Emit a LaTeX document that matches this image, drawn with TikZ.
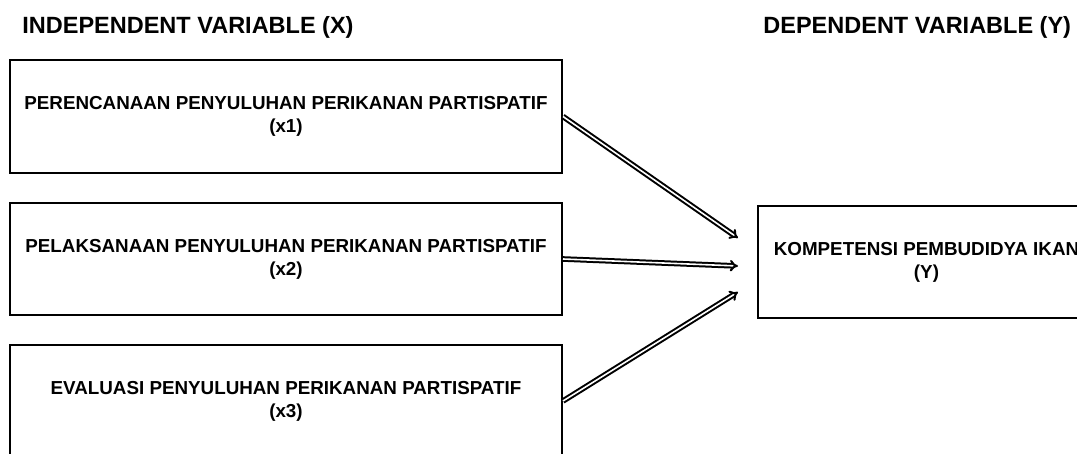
\documentclass[tikz,border=0pt]{standalone}
\usepackage{fontspec}
\setmainfont{Liberation Sans}
\usetikzlibrary{arrows.meta, calc}

\begin{document}
\begin{tikzpicture}[x=0.5pt, y=-0.5pt,
		heading/.style={anchor=base west, inner sep=0pt, font=\fontsize{11.75}{13}\selectfont\bfseries},
		varbox/.style={draw, line width=1pt, align=center, inner sep=0pt, font=\fontsize{9.4}{11.5}\selectfont\bfseries},
		link/.style={double, double distance=0.8pt, line width=1pt, -{Implies[scale=1.2]}}]
		\useasboundingbox (0,0) rectangle (1077,454);
		\node[heading] (headX) at (22,34) {INDEPENDENT VARIABLE (X)};
		\node[heading] (headY) at (763,34) {DEPENDENT VARIABLE (Y)};
		\node[varbox, minimum width=276pt, minimum height=56.5pt] (x1) at (286,116.5) {PERENCANAAN PENYULUHAN PERIKANAN PARTISPATIF\\(x1)};
		\node[varbox, minimum width=276pt, minimum height=56pt] (x2) at (286,259) {PELAKSANAAN PENYULUHAN PERIKANAN PARTISPATIF\\(x2)};
		\node[varbox, minimum width=276pt, minimum height=56pt] (x3) at (286,401) {EVALUASI PENYULUHAN PERIKANAN PARTISPATIF\\(x3)};
		\node[varbox, minimum width=168.5pt, minimum height=56pt] (y) at (926.5,262) {KOMPETENSI PEMBUDIDYA IKAN\\(Y)};
		\draw[link] (x1.east) -- ($(y.west)+(-19,-24)$);
		\draw[link] (x2.east) -- ($(y.west)+(-19,4)$);
		\draw[link] (x3.east) -- ($(y.west)+(-19,30)$);
	\end{tikzpicture}
\end{document}
